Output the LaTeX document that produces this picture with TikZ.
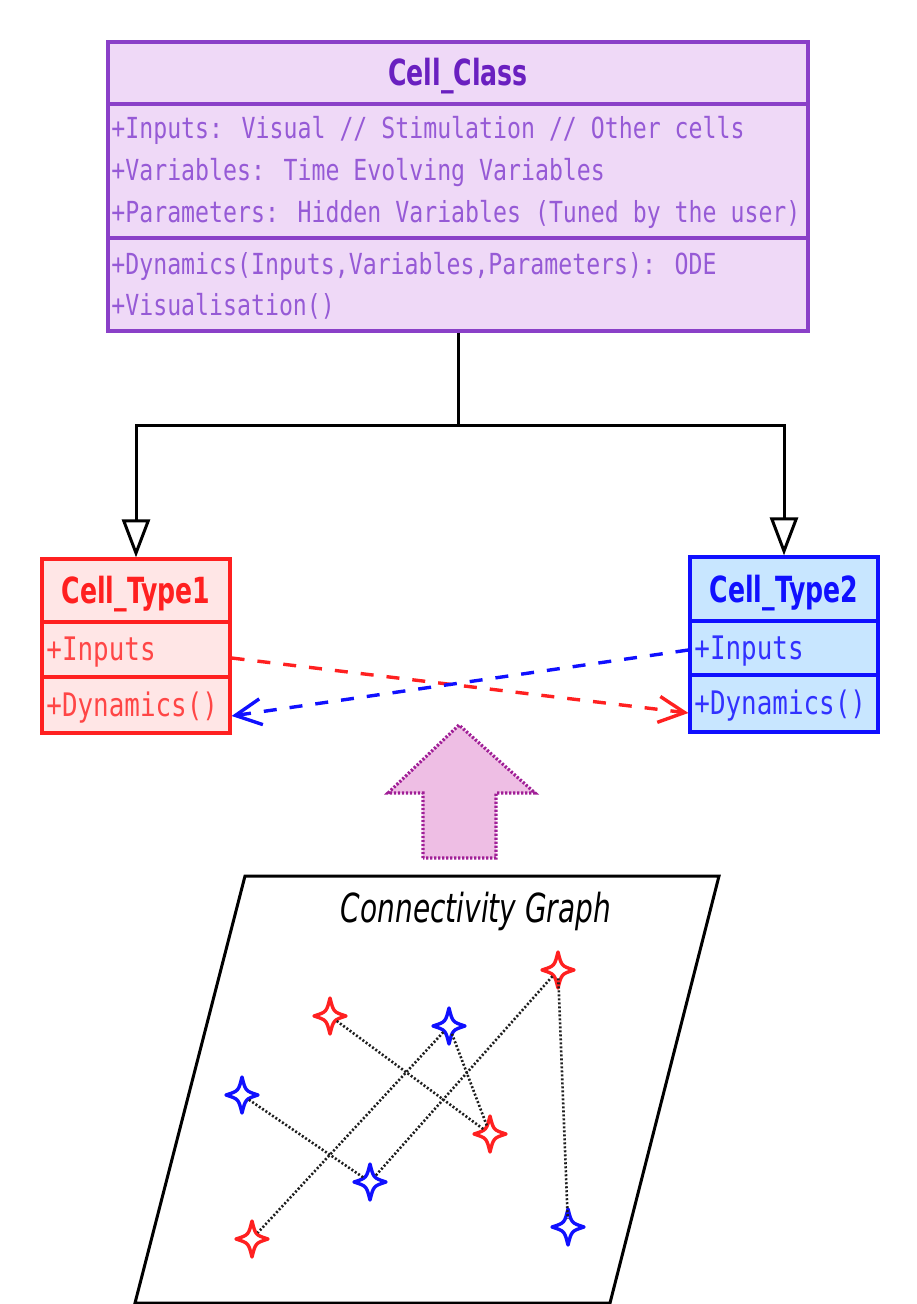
\documentclass[tikz,border=0pt]{standalone}
\usepackage{fontspec}
\usetikzlibrary{arrows.meta}
\newfontfamily\umlsans[FakeStretch=0.7]{DejaVu Sans}
\newfontfamily\umlmono[FakeStretch=0.8]{DejaVu Sans Mono}
\definecolor{classline}{RGB}{138,64,200}
\definecolor{classfill}{RGB}{239,217,247}
\definecolor{classtext}{RGB}{106,32,192}
\definecolor{classattr}{RGB}{150,90,214}
\definecolor{typeoneline}{RGB}{255,32,32}
\definecolor{typeonefill}{RGB}{255,230,230}
\definecolor{typeonetext}{RGB}{255,70,70}
\definecolor{typetwoline}{RGB}{16,16,255}
\definecolor{typetwofill}{RGB}{200,230,255}
\definecolor{typetwotext}{RGB}{50,50,255}
\definecolor{arrowfill}{RGB}{238,190,228}
\definecolor{arrowline}{RGB}{160,30,150}
\definecolor{linkgray}{RGB}{30,30,30}
\tikzset{
	compart/.style={draw, rectangle, inner sep=0pt, line width=1.6pt},
	classpart/.style={compart, draw=classline, fill=classfill, minimum width=350pt},
	typeonepart/.style={compart, draw=typeoneline, fill=typeonefill, minimum width=94pt},
	typetwopart/.style={compart, draw=typetwoline, fill=typetwofill, minimum width=94pt},
	titletext/.style={inner sep=0pt, anchor=base, font=\umlsans\bfseries\fontsize{18pt}{20pt}\selectfont},
	attrtext/.style={inner sep=0pt, anchor=base west, text=classattr, font=\umlmono\fontsize{14.5pt}{16pt}\selectfont},
	smalltext/.style={inner sep=0pt, anchor=base west, font=\umlmono\fontsize{16.2pt}{17pt}\selectfont},
	inherit/.style={line width=1.5pt, -{Triangle[open, fill=white, length=19pt, width=14pt]}},
	usage/.style={line width=1.7pt, dash pattern=on 6.5pt off 6.5pt, -{Straight Barb[length=13pt, width=13pt]}},
	link/.style={linkgray, line width=1.3pt, dash pattern=on 1pt off 1pt},
	starnode/.style={circle, inner sep=0pt, minimum size=8pt},
}
% one four-pointed cell of the graph: name, colour, position
\newcommand\cellstar[3]{%
	\node[starnode] (#1) at (#3) {};
	\draw[#2, line width=1.7pt, line join=round, shift={(#3)}] (0,-18) .. controls (3.5,-4) .. (16,0) .. controls (3.5,4) .. (0,18) .. controls (-3.5,4) .. (-16,0) .. controls (-3.5,-4) .. cycle;
}

\begin{document}
\begin{tikzpicture}[x=0.5pt, y=-0.5pt]
			%%%%% START %%%%%
			\useasboundingbox (0,0) rectangle (916,1304);
			
			% main class
			\node[classpart, minimum height=31pt] (clstitle) at (458,73) {};
			\node[classpart, minimum height=67pt] (clsattr) at (458,171) {};
			\node[classpart, minimum height=46.5pt] (clsops) at (458,284.5) {};
			\node[titletext, text=classtext] (clsname) at (458,86) {Cell\_Class};
			\node[attrtext] (attrin) at (111,139) {+Inputs: Visual // Stimulation // Other cells};
			\node[attrtext] (attrvar) at (111,181) {+Variables: Time Evolving Variables};
			\node[attrtext] (attrpar) at (111,223) {+Parameters: Hidden Variables (Tuned by the user)};
			\node[attrtext] (opdyn) at (111,275) {+Dynamics(Inputs,Variables,Parameters): ODE};
			\node[attrtext] (opvis) at (111,316) {+Visualisation()};
			
			% first cell type
			\node[typeonepart, minimum height=31.5pt] (t1title) at (136,590.5) {};
			\node[typeonepart, minimum height=27.5pt] (t1inputs) at (136,649.5) {};
			\node[typeonepart, minimum height=28pt] (t1ops) at (136,705) {};
			\node[titletext, text=typeoneline] (t1name) at (136,603) {Cell\_Type1};
			\node[smalltext, text=typeonetext] (t1in) at (46,660) {+Inputs};
			\node[smalltext, text=typeonetext] (t1dyn) at (46,716) {+Dynamics()};
			
			% second cell type
			\node[typetwopart, minimum height=32pt] (t2title) at (784,589) {};
			\node[typetwopart, minimum height=27pt] (t2inputs) at (784,648) {};
			\node[typetwopart, minimum height=28.5pt] (t2ops) at (784,703.5) {};
			\node[titletext, text=typetwoline] (t2name) at (784,602) {Cell\_Type2};
			\node[smalltext, text=typetwotext] (t2in) at (694,659) {+Inputs};
			\node[smalltext, text=typetwotext] (t2dyn) at (694,714) {+Dynamics()};
			
			% inheritance
			\coordinate (fork) at (458,425);
			\draw[line width=1.5pt] (clsops.south) -- (fork);
			\draw[inherit] (fork) -| (t1title.north);
			\draw[inherit] (fork) -| (t2title.north);
			
			% inputs between the types
			\draw[usage, typeoneline] ([yshift=-4.25pt]t1inputs.east) -- ([yshift=-4.75pt]t2ops.west);
			\draw[usage, typetwoline] ([yshift=-1pt]t2inputs.west) -- ([yshift=-5.5pt]t1ops.east);
			
			% big arrow
			\draw[arrowline, fill=arrowfill, line width=1.6pt, dash pattern=on 1.1pt off 0.9pt] (423,858) -- (423,793) -- (388,793) -- (459,725) -- (535,793) -- (496,793) -- (496,858) -- cycle;
			
			% graph plane
			\draw[line width=1.5pt] (245,876) -- (719,876) -- (610,1303) -- (135,1303) -- cycle;
			\node[anchor=base, inner sep=0pt, font=\umlsans\itshape\fontsize{20pt}{22pt}\selectfont] (graphtitle) at (476,922) {Connectivity Graph};
			
			\cellstar{r1}{typeoneline}{558,970}
			\cellstar{r2}{typeoneline}{330,1016}
			\cellstar{r3}{typeoneline}{490,1134}
			\cellstar{r4}{typeoneline}{252,1239}
			\cellstar{b1}{typetwoline}{449,1026}
			\cellstar{b2}{typetwoline}{242,1095}
			\cellstar{b3}{typetwoline}{370,1182}
			\cellstar{b4}{typetwoline}{568,1227}
			
			\draw[link] (r2) -- (r3);
			\draw[link] (b1) -- (r3);
			\draw[link] (b1) -- (r4);
			\draw[link] (r1) -- (b3);
			\draw[link] (r1) -- (b4);
			\draw[link] (b2) -- (b3);
			%%%%% END %%%%%
\end{tikzpicture}
\end{document}
